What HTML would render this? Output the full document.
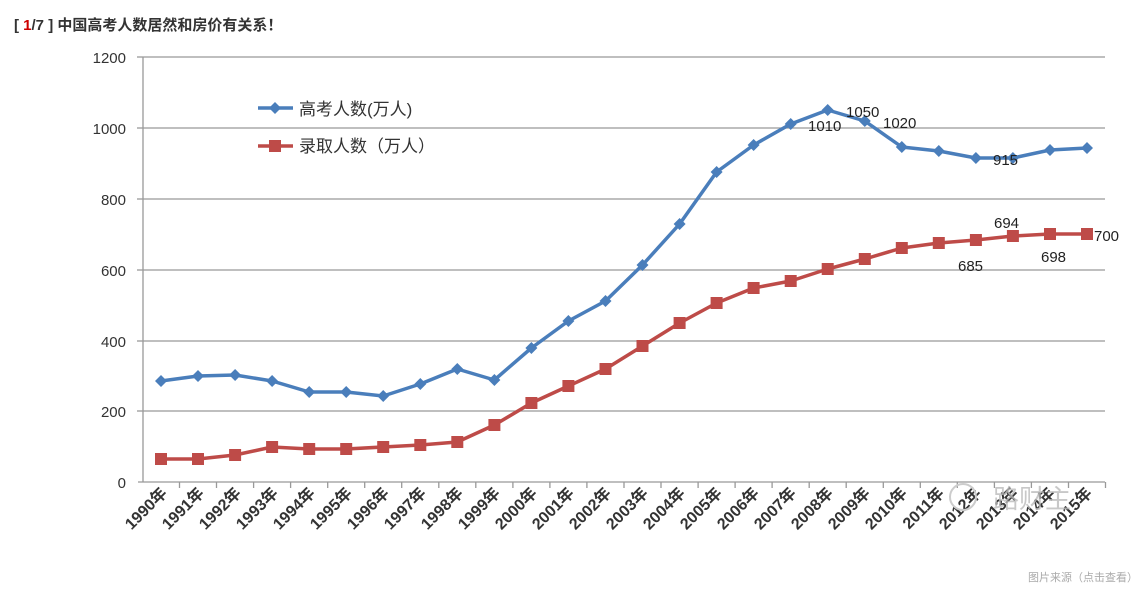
<!DOCTYPE html>
<html><head><meta charset="utf-8"><style>
body{margin:0;background:#fff;width:1148px;height:598px;overflow:hidden;font-family:"Liberation Sans","Noto Sans CJK SC",sans-serif}
</style></head><body>
<svg width="1148" height="598" xmlns="http://www.w3.org/2000/svg" font-family="Liberation Sans, Noto Sans CJK SC, sans-serif">
<text x="14" y="30" font-size="15" font-weight="bold" fill="#333">[ <tspan fill="#c00">1</tspan>/7 ] 中国高考人数居然和房价有关系！</text>
<g stroke="#999" stroke-width="1.3">
<line x1="143" y1="57" x2="1105" y2="57"/><line x1="143" y1="128" x2="1105" y2="128"/><line x1="143" y1="199" x2="1105" y2="199"/><line x1="143" y1="270" x2="1105" y2="270"/><line x1="143" y1="341" x2="1105" y2="341"/><line x1="143" y1="411" x2="1105" y2="411"/>
<line x1="138" y1="482" x2="1105" y2="482"/><line x1="143" y1="57" x2="143" y2="482"/>
<line x1="137" y1="57" x2="143" y2="57"/><line x1="137" y1="128" x2="143" y2="128"/><line x1="137" y1="199" x2="143" y2="199"/><line x1="137" y1="270" x2="143" y2="270"/><line x1="137" y1="341" x2="143" y2="341"/><line x1="137" y1="411" x2="143" y2="411"/>
<path d="M179.5 482v6M216.5 482v6M253.6 482v6M290.6 482v6M327.7 482v6M364.7 482v6M401.7 482v6M438.8 482v6M475.8 482v6M512.9 482v6M549.9 482v6M586.9 482v6M624 482v6M661 482v6M698.1 482v6M735.1 482v6M772.1 482v6M809.2 482v6M846.2 482v6M883.3 482v6M920.3 482v6M957.3 482v6M994.4 482v6M1031.4 482v6M1068.5 482v6M1105.5 482v6"/>
</g>
<g font-size="15" fill="#333" text-anchor="end">
<text x="126" y="63">1200</text><text x="126" y="134">1000</text><text x="126" y="205">800</text><text x="126" y="276">600</text><text x="126" y="347">400</text><text x="126" y="417">200</text><text x="126" y="488">0</text>
</g>
<g font-size="16" fill="#333" font-weight="bold" text-anchor="end">
<text transform="translate(168,494) rotate(-45)">1990年</text>
<text transform="translate(205,494) rotate(-45)">1991年</text>
<text transform="translate(242,494) rotate(-45)">1992年</text>
<text transform="translate(279,494) rotate(-45)">1993年</text>
<text transform="translate(316,494) rotate(-45)">1994年</text>
<text transform="translate(353,494) rotate(-45)">1995年</text>
<text transform="translate(390,494) rotate(-45)">1996年</text>
<text transform="translate(427,494) rotate(-45)">1997年</text>
<text transform="translate(464,494) rotate(-45)">1998年</text>
<text transform="translate(501,494) rotate(-45)">1999年</text>
<text transform="translate(538,494) rotate(-45)">2000年</text>
<text transform="translate(575,494) rotate(-45)">2001年</text>
<text transform="translate(612,494) rotate(-45)">2002年</text>
<text transform="translate(649,494) rotate(-45)">2003年</text>
<text transform="translate(686,494) rotate(-45)">2004年</text>
<text transform="translate(723,494) rotate(-45)">2005年</text>
<text transform="translate(760,494) rotate(-45)">2006年</text>
<text transform="translate(797,494) rotate(-45)">2007年</text>
<text transform="translate(834,494) rotate(-45)">2008年</text>
<text transform="translate(871,494) rotate(-45)">2009年</text>
<text transform="translate(908,494) rotate(-45)">2010年</text>
<text transform="translate(945,494) rotate(-45)">2011年</text>
<text transform="translate(982,494) rotate(-45)">2012年</text>
<text transform="translate(1019,494) rotate(-45)">2013年</text>
<text transform="translate(1056,494) rotate(-45)">2014年</text>
<text transform="translate(1093,494) rotate(-45)">2015年</text>
</g>
<polyline fill="none" stroke="#4a7ebb" stroke-width="3.5" stroke-linejoin="round" points="161,381 198,376 235.1,375 272.1,381 309.2,392 346.2,392 383.2,396 420.3,384 457.3,369 494.4,380 531.4,348 568.4,321 605.5,301 642.5,265 679.6,224 716.6,172 753.6,145 790.7,124 827.7,110 864.8,121 901.8,147 938.8,151 975.9,158 1012.9,158 1050,150 1087,148"/>
<g fill="#4a7ebb">
<path d="M161 375l6 6-6 6-6-6zM198 370l6 6-6 6-6-6zM235.1 369l6 6-6 6-6-6zM272.1 375l6 6-6 6-6-6zM309.2 386l6 6-6 6-6-6zM346.2 386l6 6-6 6-6-6zM383.2 390l6 6-6 6-6-6zM420.3 378l6 6-6 6-6-6zM457.3 363l6 6-6 6-6-6zM494.4 374l6 6-6 6-6-6zM531.4 342l6 6-6 6-6-6zM568.4 315l6 6-6 6-6-6zM605.5 295l6 6-6 6-6-6zM642.5 259l6 6-6 6-6-6zM679.6 218l6 6-6 6-6-6zM716.6 166l6 6-6 6-6-6zM753.6 139l6 6-6 6-6-6zM790.7 118l6 6-6 6-6-6zM827.7 104l6 6-6 6-6-6zM864.8 115l6 6-6 6-6-6zM901.8 141l6 6-6 6-6-6zM938.8 145l6 6-6 6-6-6zM975.9 152l6 6-6 6-6-6zM1012.9 152l6 6-6 6-6-6zM1050 144l6 6-6 6-6-6zM1087 142l6 6-6 6-6-6z"/>
</g>
<polyline fill="none" stroke="#be4b48" stroke-width="3.5" stroke-linejoin="round" points="161,459 198,459 235.1,455 272.1,447 309.2,449 346.2,449 383.2,447 420.3,445 457.3,442 494.4,425 531.4,403 568.4,386 605.5,369 642.5,346 679.6,323 716.6,303 753.6,288 790.7,281 827.7,269 864.8,259 901.8,248 938.8,243 975.9,240 1012.9,236 1050,234 1087,234"/>
<g fill="#be4b48">
<rect x="155" y="453" width="12" height="12"/><rect x="192" y="453" width="12" height="12"/><rect x="229.1" y="449" width="12" height="12"/><rect x="266.1" y="441" width="12" height="12"/><rect x="303.2" y="443" width="12" height="12"/><rect x="340.2" y="443" width="12" height="12"/><rect x="377.2" y="441" width="12" height="12"/><rect x="414.3" y="439" width="12" height="12"/><rect x="451.3" y="436" width="12" height="12"/><rect x="488.4" y="419" width="12" height="12"/><rect x="525.4" y="397" width="12" height="12"/><rect x="562.4" y="380" width="12" height="12"/><rect x="599.5" y="363" width="12" height="12"/><rect x="636.5" y="340" width="12" height="12"/><rect x="673.6" y="317" width="12" height="12"/><rect x="710.6" y="297" width="12" height="12"/><rect x="747.6" y="282" width="12" height="12"/><rect x="784.7" y="275" width="12" height="12"/><rect x="821.7" y="263" width="12" height="12"/><rect x="858.8" y="253" width="12" height="12"/><rect x="895.8" y="242" width="12" height="12"/><rect x="932.8" y="237" width="12" height="12"/><rect x="969.9" y="234" width="12" height="12"/><rect x="1006.9" y="230" width="12" height="12"/><rect x="1044" y="228" width="12" height="12"/><rect x="1081" y="228" width="12" height="12"/>
</g>
<g font-size="15" fill="#222">
<text x="808" y="131">1010</text><text x="846" y="117">1050</text><text x="883" y="128">1020</text><text x="993" y="165">915</text>
<text x="994" y="228">694</text><text x="958" y="271">685</text><text x="1041" y="262">698</text><text x="1094" y="241">700</text>
</g>
<line x1="258" y1="108" x2="293" y2="108" stroke="#4a7ebb" stroke-width="3.5"/><path d="M275 102l6 6-6 6-6-6z" fill="#4a7ebb"/>
<line x1="258" y1="146" x2="293" y2="146" stroke="#be4b48" stroke-width="3.5"/><rect x="269" y="140" width="12" height="12" fill="#be4b48"/>
<text x="299" y="115" font-size="17" fill="#333">高考人数(万人)</text>
<text x="299" y="152" font-size="17" fill="#333">录取人数（万人）</text>
<text x="993" y="508" font-size="26" fill="#bbb" opacity="0.8">路财主</text>
<circle cx="963" cy="497" r="13" fill="none" stroke="#ccc" stroke-width="2"/>
<text x="1138" y="581" font-size="11" fill="#aaa" text-anchor="end">图片来源（点击查看）</text>
</svg>
</body></html>
